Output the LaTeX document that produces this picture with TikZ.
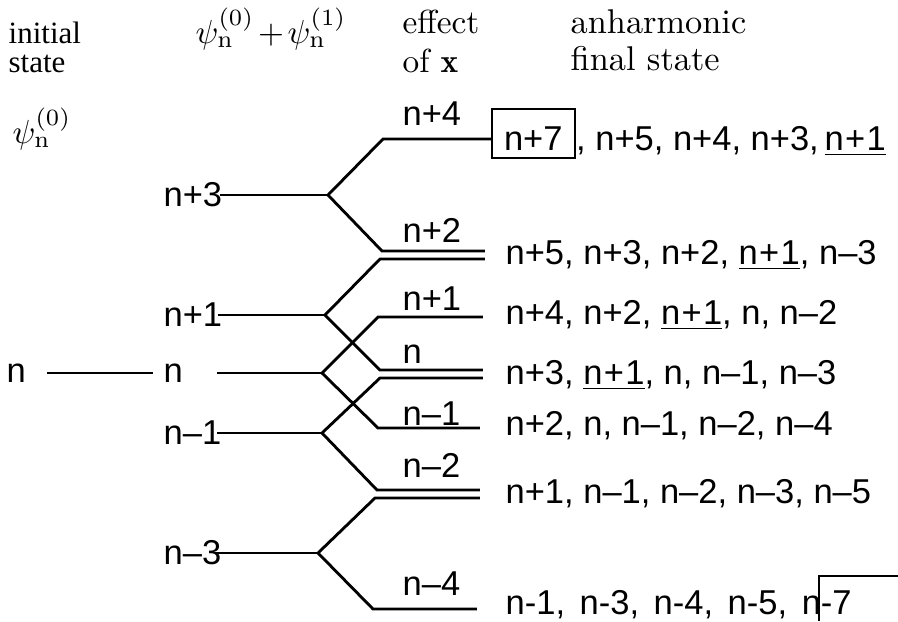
\documentclass[tikz,border=0pt]{standalone}
\usepackage{fontspec}
\newfontfamily\lblfont{Liberation Sans}[Ligatures=TeX]
\newfontfamily\tmsfont{Liberation Serif}[Ligatures=TeX]
\usetikzlibrary{positioning}

\begin{document}
\begin{tikzpicture}[
    x=0.3pt, y=-0.3pt,
    line join=miter,
    lvl/.style = {
        anchor=west,
        inner sep=0pt,
        font=\lblfont\fontsize{10.35}{12}\selectfont
    },
    lbl/.style = {
        anchor=base west,
        inner sep=0pt,
        font=\lblfont\fontsize{10.35}{12}\selectfont
    },
    final/.style = {
        anchor=base west,
        inner sep=0pt,
        font=\lblfont\fontsize{10.35}{12}\selectfont
    },
    head/.style = {
        anchor=base west,
        inner sep=0pt,
        align=left
    },
    level/.style = {
        line width=0.85pt
    },
    framebox/.style = {
        draw,
        line width=0.6pt
    }
]

\useasboundingbox (0,0) rectangle (898,621);

% column headers (base = last line)
\node (hinit) [head, font=\tmsfont\fontsize{9.3}{8.7}\selectfont] at (8,72) {initial\\state};
\node (hpsi) [head, font=\fontsize{10.3}{12}\selectfont] at (195,43) {\medmuskip=2mu$\psi^{(0)}_{\mathrm{n}} + \psi^{(1)}_{\mathrm{n}}$};
\node (hx) [head, font=\fontsize{10}{11.7}\selectfont] at (402,72) {effect\\of $\mathbf{x}$};
\node (hfin) [head, font=\fontsize{10.3}{11.1}\selectfont] at (570,70) {anharmonic\\final state};
\node (psi0) [head, font=\fontsize{10}{12}\selectfont] at (12,143) {$\psi^{(0)}_{\mathrm{n}}$};

% initial state
\node (i0) [lvl] at (6,373) {n};
\coordinate (i0a) at (47,373);
\coordinate (i0b) at (153,373);

% first order levels
\node (l3) [lvl] at (163,195) {n+3};
\node (l1) [lvl] at (163,315) {n+1};
\node (l0) [lvl] at (163,373) {n};
\node (lm1) [lvl] at (163,433) {n--1};
\node (lm3) [lvl] at (163,553) {n--3};

\coordinate (s3) at (220,195);
\coordinate (s1) at (218,315);
\coordinate (s0) at (217,373);
\coordinate (sm1) at (217,433);
\coordinate (sm3) at (215,553);

\coordinate (b3) at (328,195);
\coordinate (b1) at (325,315);
\coordinate (b0) at (322,373);
\coordinate (bm1) at (322,433);
\coordinate (bm3) at (318,553);

% final levels
\coordinate (e4a) at (383,139);
\coordinate (e2a) at (382,251);
\coordinate (e2b) at (485,251);
\coordinate (e2c) at (380,259);
\coordinate (e2d) at (485,259);
\coordinate (e1a) at (378,317);
\coordinate (e1b) at (483,317);
\coordinate (e0a) at (380,370);
\coordinate (e0b) at (483,370);
\coordinate (e0c) at (380,378);
\coordinate (e0d) at (483,378);
\coordinate (em1a) at (378,428);
\coordinate (em1b) at (480,428);
\coordinate (em2a) at (377,490);
\coordinate (em2b) at (480,490);
\coordinate (em2c) at (375,498);
\coordinate (em2d) at (480,498);
\coordinate (em4a) at (373,609);
\coordinate (em4b) at (477,609);

\node (t4) [lbl] at (402,125) {n+4};
\node (t2) [lbl] at (402,242) {n+2};
\node (t1) [lbl] at (402,310) {n+1};
\node (t0) [lbl] at (402,363) {n};
\node (tm1) [lbl] at (402,425) {n--1};
\node (tm2) [lbl] at (402,477) {n--2};
\node (tm4) [lbl] at (402,595) {n--4};

% anharmonic final states
\node (n7) [final, framebox, inner xsep=3.6pt, inner ysep=1pt, text height=11.3pt, text depth=1.4pt] at (491,150) {n+7};
\node (f4) [final] at (n7.base east) {, n+5, n+4, n+3,\,\underline{n\kern0.4pt+\kern0.4pt1}};
\node (f2) [final] at (505,264) {n+5, n+3, n+2, \underline{n\kern0.4pt+\kern0.4pt1}, n--3};
\node (f1) [final] at (505,324) {n+4, n+2, \underline{n\kern0.4pt+\kern0.4pt1}, n, n--2};
\node (f0) [final] at (505,384) {n+3, \underline{n\kern0.4pt+\kern0.4pt1}, n, n--1, n--3};
\node (fm1) [final] at (505,435) {n+2, n, n--1, n--2, n--4};
\node (fm2) [final] at (505,503) {n+1, n--1, n--2, n--3, n--5};
\node (fm4) [final] at (505,614) {n-1,\hspace{1.5pt} n-3,\hspace{1.5pt} n-4,\hspace{1.5pt} n-5,\hspace{1.5pt} n-7};

\coordinate (e4b) at (e4a -| n7.west);

\draw [level] (i0a) -- (i0b);
\draw [level] (s3) -- (b3);
\draw [level] (s1) -- (b1);
\draw [level] (s0) -- (b0);
\draw [level] (sm1) -- (bm1);
\draw [level] (sm3) -- (bm3);

\draw [level] (e4b) -- (e4a) -- (b3) -- (e2a) -- (e2b);
\draw [level] (e2d) -- (e2c) -- (b1) -- (e0a) -- (e0b);
\draw [level] (e1b) -- (e1a) -- (b0) -- (em1a) -- (em1b);
\draw [level] (e0d) -- (e0c) -- (bm1) -- (em2a) -- (em2b);
\draw [level] (em2d) -- (em2c) -- (bm3) -- (em4a) -- (em4b);

\draw [framebox] (898,576) -| (819,621);

\end{tikzpicture}
\end{document}
